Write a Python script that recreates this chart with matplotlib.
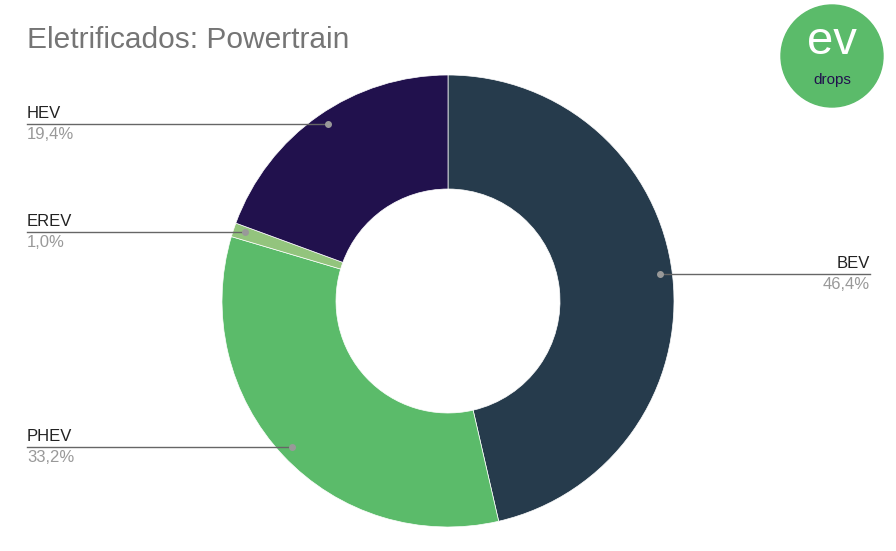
import matplotlib.pyplot as plt
from matplotlib.patches import Wedge, Circle
import numpy as np

plt.rcParams['font.family'] = ['Liberation Sans', 'DejaVu Sans']

labels = ['BEV', 'PHEV', 'EREV', 'HEV']
values = [46.4, 33.2, 1.0, 19.4]
value_text = ['46,4%', '33,2%', '1,0%', '19,4%']
colors = ['#263b4c', '#5bbb6a', '#93c47d', '#21114d']

W, H = 896, 551
fig = plt.figure(figsize=(W / 100, H / 100), dpi=100)
ax = fig.add_axes([0, 0, 1, 1])
ax.set_xlim(0, W)
ax.set_ylim(H, 0)
ax.set_aspect('equal')
ax.axis('off')

# donut, drawn in pixel space (y down), clockwise from top
cx, cy, R, r_in = 448, 301, 226, 112
ang = 90.0
total = sum(values)
mids = []
for v, c in zip(values, colors):
    span = 360 * v / total
    ax.add_patch(Wedge((cx, cy), R, -ang, -(ang - span), width=R - r_in,
                       facecolor=c, edgecolor='white', linewidth=0.5))
    mids.append(ang - span / 2)
    ang -= span

# leader lines at label heights
line_y = {'BEV': 274, 'PHEV': 447, 'EREV': 232, 'HEV': 124}
for lab, txt, m in zip(labels, value_text, mids):
    y = line_y[lab]
    dy = y - cy
    rmid = R - 12
    dx = np.sqrt(max(rmid ** 2 - dy ** 2, 0))
    right = np.cos(np.deg2rad(m)) > 0
    px = cx + dx if right else cx - dx
    x0, ha = (870, 'right') if right else (27, 'left')
    ax.plot([px, x0], [y, y], color='#666666', lw=1)
    ax.text(x0, y - 3, lab, ha=ha, va='bottom', fontsize=12, color='#222222')
    ax.text(x0, y + 3, txt, ha=ha, va='top', fontsize=12, color='#999999')
    ax.plot(px, y, 'o', color='#999999', ms=4)

ax.text(27, 40, 'Eletrificados: Powertrain', fontsize=21.5, color='#757575',
        ha='left', va='center')

# logo
ax.add_patch(Circle((832, 56), 51, color='#5bbb6a'))
ax.text(832, 42, 'ev', fontsize=34, color='white', ha='center', va='center')
ax.text(832, 80, 'drops', fontsize=11, color='#21114d', ha='center', va='center')

fig.savefig('out.png', dpi=100)
